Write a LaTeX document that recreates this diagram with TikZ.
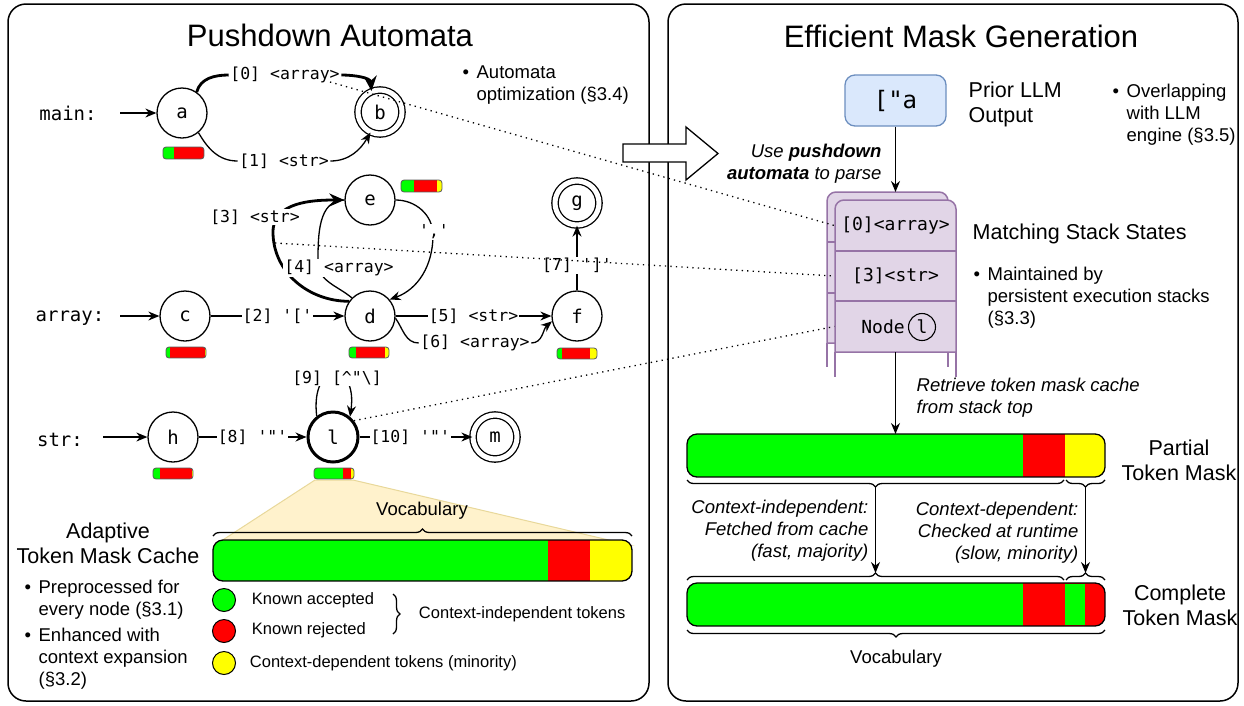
\documentclass[tikz,border=0pt]{standalone}
\usepackage{fontspec}
\setmainfont{Liberation Sans}
\setmonofont{DejaVu Sans Mono}
\usetikzlibrary{arrows.meta,decorations.pathreplacing}

\definecolor{tgreen}{HTML}{00FF00}
\definecolor{tred}{HTML}{FF0000}
\definecolor{tyellow}{HTML}{FFFF00}
\definecolor{llmfill}{HTML}{DAE8FC}
\definecolor{llmline}{HTML}{6C8EBF}
\definecolor{stackfill}{HTML}{E1D5E7}
\definecolor{stackline}{HTML}{9673A6}
\definecolor{fanfill}{HTML}{FFF2CC}
\definecolor{fanline}{HTML}{E8D89A}

\newcommand{\figtitle}{\fontsize{31}{37}\selectfont}
\newcommand{\fighead}{\fontsize{21.5}{25}\selectfont}
\newcommand{\fignote}{\fontsize{18.5}{22}\selectfont}
\newcommand{\figleg}{\fontsize{16.5}{20}\selectfont}
\newcommand{\figmono}{\ttfamily\fontsize{16.5}{20}\selectfont}
\newcommand{\figname}{\ttfamily\fontsize{19}{23}\selectfont}
\newcommand{\figstack}{\ttfamily\fontsize{18}{22}\selectfont}

% token mask bar: x, y, width, height, green end, red end, last colour, corner radius
\newcommand{\maskbar}[8]{%
  \begin{scope}
    \clip[rounded corners=#8] (#1,#2) rectangle ++(#3,#4);
    \fill[tgreen] (#1,#2) rectangle ++(#5,#4);
    \fill[tred] ({#1+#5},#2) rectangle ({#1+#6},{#2+#4});
    \fill[#7] ({#1+#6},#2) rectangle ({#1+#3},{#2+#4});
  \end{scope}
  \draw[rounded corners=#8] (#1,#2) rectangle ++(#3,#4);
}

\begin{document}
\begin{tikzpicture}[
    x = 1pt, y = -1pt, % pixel grid, y going down
    > = {Stealth[length=11pt,width=9pt]}, % arrow head style
    line width = 1.3pt,
    state/.style = {circle, draw, fill=white, minimum size=50pt, inner sep=0pt, font=\figname},
    accept/.style = {state, double, double distance=5pt, minimum size=44pt},
    elbl/.style = {fill=white, inner sep=1pt, font=\figmono},
    hl/.style = {line width=2.8pt, >={Stealth[length=15pt,width=13pt]}},
    link/.style = {line width=1.3pt, dash pattern=on 1.3pt off 4.2pt},
    panel/.style = {rounded corners=18pt, line width=1.5pt},
    title/.style = {font=\figtitle, inner sep=0pt},
    head/.style = {font=\fighead, inner sep=0pt},
    note/.style = {font=\fignote, align=left, inner sep=0pt},
    hint/.style = {font=\fignote\itshape, inner sep=0pt},
    legdot/.style = {circle, draw, line width=1pt, minimum size=23pt, inner sep=0pt},
    cbrace/.style = {decorate, decoration={brace, amplitude=7pt}, line width=1.3pt},
    stackbox/.style = {fill=stackfill, draw=stackline, line width=1.5pt},
    stackrule/.style = {draw=stackline, line width=1.5pt},
    stackrow/.style = {minimum width=121pt, minimum height=50pt, inner sep=0pt, font=\figstack}
    ]

\useasboundingbox[fill=white] (0,0) rectangle (1244,705);

% panels
\draw[panel] (8,4) rectangle (649,701);
\draw[panel] (668,4) rectangle (1238,701);
\node[title, anchor=base] (pdatitle) at (330,46) {Pushdown Automata};
\node[title, anchor=base] (emgtitle) at (961,47) {Efficient Mask Generation};

% ---- main ----
\node[font=\figname] (mainlbl) at (68,113) {main:};
\coordinate (mainin) at (120,113);
\node[state] (a) at (182,113) {a};
\node[accept] (b) at (380,112) {b};
\node[elbl] (l0) at (285,75) {[0] <array>};
\node[elbl] (l1) at (284,161) {[1] <str>};
\draw[->] (mainin) -- (a);
\draw[hl] (a.55) to[out=75,in=180] (l0.west);
\draw[hl,->] (l0.east) to[out=0,in=95] (b.112);
\draw (a.-50) to[out=-60,in=180] (l1.west);
\draw[->] (l1.east) to[out=0,in=-120] (b.-115);

% ---- array ----
\node[font=\figname] (arraylbl) at (70,318) {array:};
\coordinate (arrayin) at (120,316);
\node[state] (c) at (185,316) {c};
\node[state] (d) at (370,316) {d};
\node[state] (e) at (370,200) {e};
\node[state] (f) at (577,316) {f};
\node[accept] (g) at (577,203) {g};
\coordinate (k3) at (273,232);
\coordinate (k4) at (318,262);
\coordinate (kc) at (433,235);
\draw[->] (arrayin) -- (c);
\draw[->] (c) -- node[elbl] {[2] '['} (d);
\draw[->] (d) -- node[elbl] {[5] <str>} (f);
\node[elbl] (l6) at (475,343) {[6] <array>};
\draw (d.-5) to[out=-55,in=180] (l6.west);
\draw[->] (l6.east) to[out=0,in=-140] (f.-168);
\draw[->] (f) -- node[elbl, pos=0.38] {[7] ']'} (g);
\draw (d.135) to[out=140,in=-90] (k4) to[out=90,in=180] (e.west);
\draw[hl,->] (d.145) to[out=180,in=-90] (k3) to[out=90,in=180] (e.west);
\draw[->] (e.east) to[out=0,in=90] (kc) to[out=-90,in=20] (d.40);
\node[elbl] (l3) at (255,217) {[3] <str>};
\node[elbl] (l4) at (339,268) {[4] <array>};
\node[elbl] (lc) at (434,232) {','};

% ---- str ----
\node[font=\figname] (strlbl) at (60,440) {str:};
\coordinate (strin) at (103,437);
\node[state] (h) at (173,437) {h};
\node[state, line width=3pt] (l) at (333,437) {l};
\node[accept] (m) at (495,437) {m};
\draw[->] (strin) -- (h);
\draw[->] (h) -- node[elbl] {[8] '"'} (l);
\draw[->] (l) -- node[elbl, pos=0.45] {[10] '"'} (m);
\draw[->] (l.128) .. controls (310,360) and (358,360) .. (l.50);
\node[elbl] (l9) at (337,378) {[9] [\textasciicircum"\textbackslash]};

% ---- adaptive token mask cache ----
\filldraw[fill=fanfill, draw=fanline, line width=1pt] (315,480) -- (353,480) -- (630,545) -- (215,545) -- cycle;
\begin{scope}[color=black!65, line width=0.8pt]
  \maskbar{163}{147}{41}{12}{11}{41}{tred}{3}
  \maskbar{401}{180}{41}{12}{13}{36}{tyellow}{3}
  \maskbar{166}{347}{40}{11}{4}{39}{tyellow}{3}
  \maskbar{349}{347}{40}{11}{7}{36}{tyellow}{3}
  \maskbar{557}{348}{40}{11}{5}{33}{tyellow}{3}
  \maskbar{153}{468}{40}{11}{7}{39}{tyellow}{3}
  \maskbar{314}{468}{40}{11}{29}{37}{tyellow}{3}
\end{scope}
\maskbar{213}{540}{419}{41}{335}{377}{tyellow}{10}
\draw[cbrace] (213,536) -- (632,536);
\node[note, anchor=base] (vocl) at (422,515) {Vocabulary};
\node[head, align=center, anchor=north] (cachelbl) at (108,522) {Adaptive\\Token Mask Cache};
\node[note, anchor=north west] (cachenote1) at (24,579.5) {\makebox[14pt][l]{\textbullet}Preprocessed for\\\hspace*{14pt}every node (§3.1)};
\node[note, anchor=north west] (cachenote2) at (24,627.5) {\makebox[14pt][l]{\textbullet}Enhanced with\\\hspace*{14pt}context expansion\\\hspace*{14pt}(§3.2)};
\node[legdot, fill=tgreen] (kacc) at (224,600) {};
\node[legdot, fill=tred] (krej) at (224,631) {};
\node[legdot, fill=tyellow] (kdep) at (224,663) {};
\node[font=\figleg, anchor=west] (kacclbl) at (248,600) {Known accepted};
\node[font=\figleg, anchor=west] (krejlbl) at (248,630) {Known rejected};
\node[font=\figleg, anchor=west] (kdeplbl) at (246,663) {Context-dependent tokens (minority)};
\draw[cbrace] (393,594) -- (393,634);
\node[font=\figleg, anchor=west] (kindlbl) at (415,614) {Context-independent tokens};
\node[note, anchor=north west] (optnote) at (462,65.5) {\makebox[14pt][l]{\textbullet}Automata\\\hspace*{14pt}optimization (§3.4)};

% ---- mask generation ----
\node[draw=llmline, fill=llmfill, rounded corners=10pt, minimum width=101pt, minimum height=51pt,
      font=\ttfamily\fontsize{24}{28}\selectfont] (prior) at (895.5,100.5) {["a};
\node[head, align=left, anchor=north west] (priorlbl) at (968,81) {Prior LLM\\Output};
\node[note, anchor=north west] (ovlnote) at (1112,83.5) {\makebox[14pt][l]{\textbullet}Overlapping\\\hspace*{14pt}with LLM\\\hspace*{14pt}engine (§3.5)};
\node[hint, align=right, anchor=north east] (parsehint) at (882,143) {Use \textbf{pushdown}\\\textbf{automata} to parse};

% stack (back copy, then front copy)
\filldraw[stackbox] (827,343) [rounded corners=9pt] -- (827,192) -- (948,192) [sharp corners] -- (948,343) -- cycle;
\draw[stackrule] (827,242) -- (948,242) (827,293) -- (948,293) (827,343) -- (827,367) (948,343) -- (948,367);
\filldraw[stackbox] (835,352) [rounded corners=9pt] -- (835,200) -- (956,200) [sharp corners] -- (956,352) -- cycle;
\draw[stackrule] (835,251) -- (956,251) (835,301) -- (956,301) (835,352) -- (835,377) (956,352) -- (956,377);
\node[stackrow] (st0) at (895.5,225.5) {[0]<array>};
\node[stackrow] (st1) at (895.5,276) {[3]<str>};
\node[stackrow] (st2) at (895.5,326.5) {};
\node[font=\figstack, inner sep=0pt] (st2txt) at (883,327) {Node};
\node[circle, draw, line width=1.1pt, minimum size=27pt, inner sep=0pt, font=\figstack] (st2l) at (922,327) {l};
\coordinate (stacktop) at (895.5,192);
\draw[->] (prior) -- (stacktop);
\node[head, anchor=base west] (stacklbl) at (972,239) {Matching Stack States};
\node[note, anchor=north west] (stacknote) at (973,266.5) {\makebox[14pt][l]{\textbullet}Maintained by\\\hspace*{14pt}persistent execution stacks\\\hspace*{14pt}(§3.3)};

% partial and complete masks
\maskbar{687}{434}{418}{43}{336}{378}{tyellow}{10}
\coordinate (pmasktop) at (895.5,434);
\draw[->] (st2.south) -- (pmasktop);
\node[hint, align=left, anchor=north west] (retrhint) at (916,377) {Retrieve token mask cache\\from stack top};
\node[head, align=center, anchor=north] (partlbl) at (1179,439.5) {Partial\\Token Mask};

\draw[cbrace] (1064,480) -- (687,480);
\draw[cbrace] (1105,480) -- (1066,480);
\coordinate (indtop) at (875.5,487);
\coordinate (deptop) at (1085.5,487);
\coordinate (indbot) at (875.5,573);
\coordinate (depbot) at (1085.5,573);
\draw[->] (indtop) -- (indbot);
\draw[->] (deptop) -- (depbot);
\node[hint, align=right, anchor=north east] (indhint) at (869,499) {Context-independent:\\Fetched from cache\\(fast, majority)};
\node[hint, align=right, anchor=north east] (dephint) at (1079,501) {Context-dependent:\\Checked at runtime\\(slow, minority)};

\draw[cbrace] (687,580) -- (1064,580);
\draw[cbrace] (1066,580) -- (1105,580);
\maskbar{687}{583}{418}{43}{336}{378}{tred}{10}
\fill[tgreen] (1065,584) rectangle (1085,625);
\draw[cbrace] (1105,630) -- (687,630);
\node[note, anchor=base] (vocr) at (896,663) {Vocabulary};
\node[head, align=center, anchor=north] (complbl) at (1180,584.5) {Complete\\Token Mask};

% hand-over arrow between the panels
\filldraw[fill=white, line width=1.3pt] (623,144) -- (686,144) -- (686,127) -- (718,153.5) -- (686,180) -- (686,162) -- (623,162) -- cycle;

% links from automata to stack entries
\coordinate (dot0) at (330,82);
\coordinate (dot3) at (275,243);
\draw[link] (dot0) -- (st0.west);
\draw[link] (dot3) -- (st1.west);
\draw[link] (l.38) -- (st2.west);

\end{tikzpicture}
\end{document}
